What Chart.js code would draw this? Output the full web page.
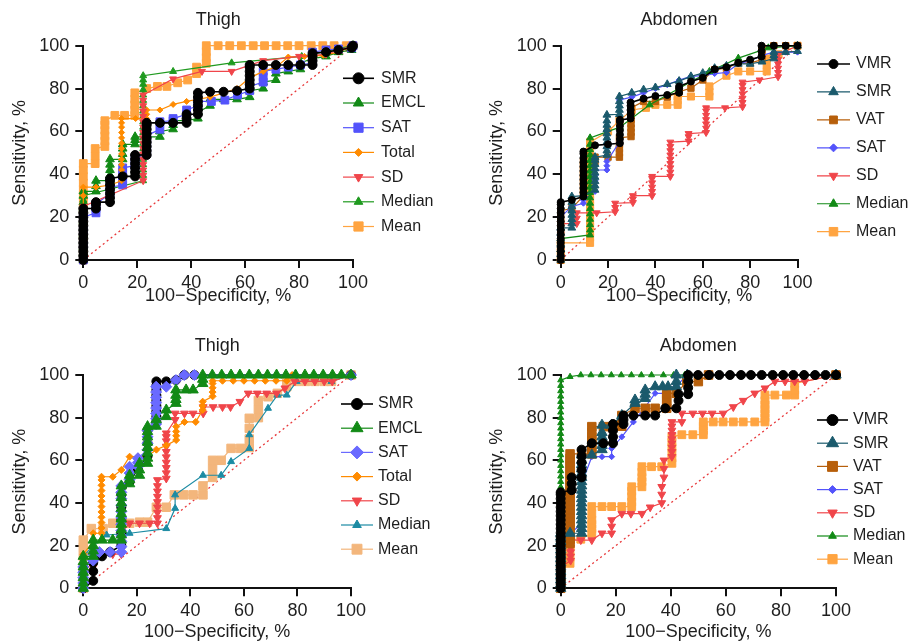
<!DOCTYPE html>
<html>
<head>
<meta charset="utf-8">
<script src="https://cdn.jsdelivr.net/npm/chart.js@4.4.1/dist/chart.umd.min.js"></script>
<style>
  html, body { margin: 0; padding: 0; background: #fff; }
  #wrap { position: relative; width: 909px; height: 643px; overflow: hidden; }
  canvas { position: absolute; }
</style>
</head>
<body>
<div id="wrap">
  <canvas id="c1" width="455" height="320" style="left:0;top:0"></canvas>
  <canvas id="c2" width="454" height="320" style="left:455px;top:0"></canvas>
  <canvas id="c3" width="455" height="321" style="left:0;top:322px"></canvas>
  <canvas id="c4" width="454" height="321" style="left:455px;top:322px"></canvas>
</div>
<script>
// ---- data: [100-specificity %, sensitivity %] ----
const thighLabels = ["SMR", "EMCL", "SAT", "Total", "SD", "Median", "Mean"];
const abdLabels = ["VMR", "SMR", "VAT", "SAT", "SD", "Median", "Mean"];
const tickValues = [0, 20, 40, 60, 80, 100];
const chanceLine = [[0, 0], [100, 100]];

// top-left: Thigh
const t1_smr = [[0,0],[0,2],[0,4],[0,6],[0,8],[0,10],[0,12],[0,14],[0,16],[0,18],[0,20],[0,22],[0,24],[4.7,24],[4.7,26],[4.7,27],[9.9,27],[9.9,29],[9.9,31],[9.9,33],[9.9,35],[9.9,37],[9.9,38],[14.6,39],[19.2,39],[19.2,41],[19.2,43],[19.2,45],[19.2,47],[19.2,49],[23.5,49],[23.5,51],[23.5,53],[23.5,55],[23.5,57],[23.5,59],[23.5,61],[23.5,63],[23.5,64],[28.4,64],[33.3,64],[38.3,64],[38.3,66],[38.3,68],[42.5,68],[42.5,70],[42.5,72],[42.5,74],[42.5,76],[42.5,78],[47,78.5],[52,78.5],[57,79],[61.7,80],[61.7,82],[61.7,84],[61.7,86],[61.7,88],[61.7,90],[61.7,91],[66.7,91],[71.4,91],[76,91],[80.5,91],[85,91],[85,93],[85,95],[85,96.5],[90,97],[94.6,98],[99.5,99],[100,100]];
const t1_emcl = [[0,0],[0,3],[0,6],[0,9],[0,12],[0,15],[0,18],[0,21],[0,24],[0,27],[0,30],[0,32],[4.7,32],[4.7,34.5],[4.7,37],[9.9,37],[9.9,39.5],[9.9,42],[9.9,44.5],[9.9,47],[14.6,47],[14.6,49.5],[14.6,52],[14.6,54],[19.2,54],[19.2,56],[19.2,57.5],[23.5,57.5],[28.4,57.5],[28.4,60],[33.3,61],[33.3,63],[33.3,65],[38.3,65],[42.5,66],[42.5,69],[47,72],[47,75],[52,75],[57,75],[61.7,76],[61.7,79],[66.7,80],[66.7,83],[71.4,84],[71.4,87],[76,88],[80.5,89],[80.5,92],[85,94],[90,95],[94.6,97],[99.5,98],[100,100]];
const t1_sat = [[0,0],[0,7],[0,14],[0,20],[4.7,22],[4.7,24],[4.7,26],[9.9,31],[9.9,34],[14.6,35],[14.6,37],[14.6,39],[14.6,41],[14.6,43],[19.2,44],[19.2,47],[23.5,50],[23.5,52],[23.5,54],[23.5,56],[23.5,58],[28.4,61],[28.4,64.5],[33.3,65],[33.3,66],[38.3,68],[38.3,70],[42.5,72],[42.5,74],[47.5,74],[52.5,74.6],[57.2,77],[61.7,79],[61.7,81],[66.7,83],[66.7,85.5],[66.7,88],[71.4,89],[76,90],[80.5,91],[85,92],[85,94.5],[85,97],[90,98],[94.6,98.5],[99.5,99],[100,100]];
const t1_total = [[0,0],[0,10],[0,20],[0,30],[0,34],[4.7,34],[9.9,35],[14.2,37],[14.2,39.5],[14.2,42],[14.2,44.5],[14.2,47],[14.2,49.5],[14.2,52],[14.2,54.5],[14.2,57],[14.2,59.5],[14.2,62],[14.2,64],[14.2,66],[19.4,66],[23.5,66],[23.5,68],[23.5,70],[28.4,70],[33.3,72.6],[38.3,74],[42.5,75],[47,76],[52,78],[57,80],[61.7,85],[66.7,88],[71.4,90],[76,94.7],[82,95],[89,95.5],[94.6,97],[100,100]];
const t1_sd = [[0,0],[0,8],[0,16],[0,25],[22.2,37],[22.2,39.5],[22.2,42],[22.2,44.5],[22.2,47],[22.2,49.5],[22.2,52],[22.2,54.5],[22.2,57],[22.2,59.5],[22.2,62],[22.2,64.5],[22.2,67],[22.2,69.5],[22.2,72],[22.2,74.5],[22.2,77],[33.3,84.5],[44,88],[55,88],[66.7,93],[80,95],[90,96],[100,100]];
const t1_median = [[0,0],[0,4],[0,8],[0,12],[0,16],[0,20],[0,24],[0,28],[0,30],[22.2,37],[22.2,39.5],[22.2,42],[22.2,44.5],[22.2,47],[22.2,49.5],[22.2,52],[22.2,54.5],[22.2,57],[22.2,59.5],[22.2,62],[22.2,64.5],[22.2,67],[22.2,69.5],[22.2,72],[22.2,74.5],[22.2,77],[22.2,79.5],[22.2,82],[22.2,84],[22.2,86],[33.3,88],[55,92],[81,95],[100,100]];
const t1_mean = [[0,0],[0,3],[0,6],[0,9],[0,12],[0,15],[0,18],[0,21],[0,24],[0,27],[0,30],[0,33],[0,36],[0,39],[0,42],[0,45],[4.4,45],[4.4,48.5],[4.4,52],[8,53],[8,55.5],[8,58],[8,60.5],[8,63],[8,65],[11.7,67.5],[15.3,67.5],[19.1,67.5],[19.1,70],[19.1,72.5],[19.1,75],[19.1,78],[23.5,80],[27.5,81],[31,81],[35,82.7],[38.7,84],[42,87],[42,90],[45.6,91.8],[45.6,94.5],[45.6,97.2],[45.6,100],[50,100],[54.3,100],[58.6,100],[63,100],[67.2,100],[71.5,100],[75.8,100],[80,100],[84.5,100],[88.8,100],[93,100],[97.5,100],[100,100]];

// top-right: Abdomen
const a1_vmr = [[0,0],[0,2],[0,4],[0,6],[0,8],[0,10],[0,12],[0,14],[0,16],[0,18],[0,20],[0,22],[0,24],[0,26],[0,27],[4.7,28],[9.6,29.6],[9.6,31.6],[9.6,33.6],[9.6,35.6],[9.6,37.6],[9.6,39.6],[9.6,41.6],[9.6,43.6],[9.6,45.6],[9.6,47.6],[9.6,49.6],[9.6,50.6],[14.5,53.5],[20,54],[25,54.5],[25,56.5],[25,58.5],[25,60.5],[25,62.5],[25,64.5],[25,65.4],[29.5,66],[29.5,68],[29.5,70],[29.5,72],[29.5,73.5],[35,75.3],[40,76.5],[45,77],[50,78],[50,80],[50,81],[55,83.3],[60,85],[65,89],[70,90],[75,92],[80,93.5],[84.8,95],[84.8,97.5],[84.8,100],[90,100],[95,100],[100,100]];
const a1_smr = [[0,0],[0,2.5],[0,5],[0,7.5],[0,10],[0,12.5],[0,15],[4.7,15],[4.7,17],[4.7,19],[4.7,21],[4.7,23],[4.7,25],[4.7,27],[4.7,29.6],[9.6,30],[14.5,32.7],[14.5,34.7],[14.5,36.7],[14.5,38.7],[14.5,40.7],[14.5,42.7],[14.5,44.7],[14.5,46.7],[14.5,48],[19.5,49],[19.5,51],[19.5,53],[19.5,55],[19.5,57],[19.5,59],[19.5,61],[19.5,63],[19.5,65],[19.5,67.7],[24.8,68],[24.8,70],[24.8,72],[24.8,74],[24.8,76.3],[30,78],[35,79.5],[40,80.5],[45,82],[50,83.5],[55,85.7],[60,87.2],[65,89.5],[70,90.6],[75,91.5],[80,91.5],[85,92.5],[90,94],[90,95.5],[90,97],[95,97],[100,97.4],[100,100]];
const a1_vat = [[0,0],[0,2.5],[0,5],[0,7.5],[0,10],[0,12.5],[0,15],[0,17.5],[0,20],[0,23],[4.7,24],[9.6,30],[9.6,32],[9.6,34],[9.6,36],[9.6,38],[9.6,40],[9.6,42],[9.6,44],[9.6,46],[14.5,46],[14.5,48],[20,48],[24.8,48],[24.8,50],[24.8,52],[24.8,54],[24.8,57],[29.7,57.6],[29.7,59.6],[29.7,61.6],[29.7,63.6],[29.7,65.6],[29.7,67.6],[29.7,69.6],[29.7,71],[35,74],[40,74],[45,76],[50,78.5],[55,80.2],[60,84],[65,88.8],[70,89.5],[75,91.9],[80,91.9],[85,93.5],[85,95.5],[85,97.5],[85,99],[90,100],[95,100],[100,100]];
const a1_sat = [[0,0],[0,10],[0,20],[4.7,25],[9.6,26.5],[9.6,28],[14.5,32],[14.5,34.5],[14.5,37],[14.5,39.5],[14.5,42],[19.5,42],[19.5,44],[19.5,46],[24.8,55],[24.8,65],[24.8,74.7],[30,76],[35,78],[40,80],[45,81.8],[50,84],[55,85.7],[60,86],[65,87],[70,87.5],[75,91.5],[80,93],[85,95.5],[90,97],[95,97],[100,97],[100,100]];
const a1_sd = [[0,0],[0,4],[0,8],[0,12],[0,17],[6.8,17],[6.8,19.5],[6.8,22],[15.2,22],[23,22.5],[23,24.5],[23,26.5],[30.5,26.8],[30.5,28.5],[30.5,30],[38.6,30],[38.6,32],[38.6,34],[38.6,36],[38.6,38],[38.6,39],[46.3,39],[46.3,41],[46.3,43],[46.3,45],[46.3,47],[46.3,49],[46.3,51],[46.3,53],[46.3,55],[54,55.5],[54,57.5],[54,59],[61.4,59.5],[61.4,61.5],[61.4,63.5],[61.4,65.5],[61.4,67.5],[61.4,69.5],[61.4,71],[69.4,71],[76.8,71.5],[76.8,73.5],[76.8,75.5],[76.8,77.5],[76.8,79.5],[76.8,81.5],[76.8,83],[84,84],[91.8,85.5],[91.8,87.5],[91.8,89.5],[91.8,91.5],[91.8,93.5],[91.8,95.8],[100,100]];
const a1_median = [[0,0],[0,2.5],[0,5],[0,7.5],[0,10],[12.4,11.7],[12.4,14],[12.4,16.5],[12.4,19],[12.4,21.5],[12.4,24],[12.4,26.5],[12.4,29],[12.4,31.5],[12.4,34],[12.4,36.5],[12.4,39],[12.4,41.5],[12.4,44],[12.4,46.5],[12.4,49],[12.4,51.5],[12.4,54],[12.4,57],[25,62],[37.6,72.4],[62.8,88],[75,94.2],[87.7,99],[100,100]];
const a1_mean = [[0,0],[0,4],[0,8],[12.4,8],[12.4,10.5],[12.4,13],[12.4,15.5],[12.4,18],[12.4,20.5],[12.4,23],[12.4,25.5],[12.4,28],[12.4,30.5],[12.4,33],[12.4,35.5],[12.4,38],[12.4,40.5],[12.4,43],[12.4,45.5],[12.4,48],[12.4,50.5],[12.4,53],[12.4,55],[20,60],[24.8,65],[30,70],[36,71],[40,72.4],[45,72.4],[49.4,72.4],[49.4,74.5],[49.4,76.3],[55,76.3],[62.8,76.3],[62.8,78.5],[62.8,81],[70,86],[75,88],[80,88],[87,88],[87,91],[87,94],[92,96],[100,100]];

// bottom-left: Thigh
const t2_smr = [[0,0],[3.7,3.5],[3.7,8],[3.7,12],[7,15],[10,17],[14.2,20],[14.2,26],[14.2,32],[14.2,38],[14.2,44],[17.3,50],[20.4,56],[24,62],[24,68],[24,74],[27.3,78],[27.3,80.5],[27.3,83],[27.3,85.5],[27.3,88],[27.3,90.5],[27.3,93],[27.3,95],[27.3,97],[31,97],[34.6,97.6],[37.7,100],[41.5,100],[100,100]];
const t2_emcl = [[0,0],[0,2.5],[0,5],[0,7.5],[0,10],[0,12.5],[0,15],[3.7,15],[3.7,17.5],[3.7,20],[3.7,22.6],[7,22.6],[11,22.6],[14.2,22.6],[14.2,25],[14.2,27.5],[14.2,30],[14.2,32.5],[14.2,35],[14.2,37.5],[14.2,40],[14.2,42.5],[14.2,45],[14.2,48],[17.3,49],[17.3,51],[17.3,53],[21,53],[21,55.5],[21,58.6],[24,58.6],[24,61],[24,63.5],[24,66],[24,68.5],[24,71],[24,73.5],[24,75.8],[27.2,76],[27.2,79],[31,80.5],[31,83.6],[34.6,86.7],[34.6,88.5],[34.6,90.5],[34.6,93],[38.4,93],[41,93],[44.6,96],[44.6,98],[44.6,100],[48.2,100],[51.7,100],[55.2,100],[58.5,100],[62,100],[65.4,100],[68.8,100],[72.2,100],[75.7,100],[79.3,100],[82.8,100],[86.1,100],[89.6,100],[93.1,100],[96.4,100],[100,100]];
const t2_sat = [[0,0],[0,2.5],[0,5],[0,7.5],[0,10],[3.7,13],[3.7,16],[6,17],[10,17],[14.2,17],[14.2,19.5],[14.2,22],[14.2,24.5],[14.2,27],[14.2,30],[14.2,33],[14.2,36],[14.2,39],[14.2,42],[14.2,45],[14.2,48],[17.3,51],[17.3,54],[17.3,57],[20.4,57],[20.4,59],[20.4,61],[24,65],[24,68],[24,71],[24,74],[27.2,77],[27.2,79.5],[27.2,82],[27.2,84.5],[27.2,87],[27.2,89.5],[27.2,92],[27.2,94.5],[31,94.5],[34.6,97.6],[37.7,100],[41.5,100],[100,100]];
const t2_total = [[0,0],[0,8],[0,16],[3.7,22],[3.7,25.8],[6.8,25.8],[6.8,28.3],[6.8,30.8],[6.8,33.3],[6.8,35.8],[6.8,38.3],[6.8,40.8],[6.8,43.3],[6.8,45.8],[6.8,48.3],[6.8,50.8],[6.8,52.3],[11,52.3],[14.2,55.5],[17.3,61.7],[20.4,61.7],[24,62],[27.3,65],[31,67],[34.7,69.5],[34.7,71.5],[34.7,73.5],[34.7,75.8],[37.8,78],[42,78],[44.6,83.6],[44.6,85.5],[44.6,87.5],[48.3,90],[48.3,92],[48.3,94],[48.3,96],[48.3,97.3],[52,97.3],[56,97.3],[60,97.3],[64,97.3],[68,97.3],[72,97.3],[76,97.3],[78,100],[100,100]];
const t2_sd = [[0,0],[0,5],[0,10],[3.7,10],[3.7,13],[3.7,16],[6.8,16],[11,16],[14.2,16],[14.2,19],[14.2,22],[14.2,26],[17.3,30.5],[21,30.5],[24.8,30.5],[27.7,30.5],[27.7,33],[27.7,35.5],[27.7,38],[27.7,40.5],[27.7,43],[27.7,45.5],[27.7,48],[27.7,50.8],[31,51.5],[31,54],[31,56.5],[31,59],[31,61.5],[31,64],[31,66.5],[31,69],[31,71],[31,72.7],[34.3,79],[34.3,82],[37.8,82],[41,82],[44.8,82],[44.8,85],[48.5,85],[52,85],[55,85],[58.5,87.5],[61.6,91.4],[65,91.4],[68.5,91.4],[72.2,91.4],[75.3,93.8],[79,97],[82.8,97],[86.5,97],[90,97],[93,97],[100,100]];
const t2_median = [[0,0],[0,5],[0,10],[0,15],[3.7,20],[8.7,25],[17.3,25.8],[31,28],[34.3,37.5],[34.3,43.8],[44.7,53],[51.5,53],[55.2,59.4],[62,65.6],[62,72],[69,84.4],[72.5,90.6],[76,90.6],[79.7,97],[92.7,97],[100,100]];
const t2_mean = [[0,0],[0,5],[0,10],[0,15],[0,19],[0,22.6],[3,28],[7.4,28],[11,30.5],[14,30.5],[17.3,30.5],[21,31],[24,31],[27.3,38],[31,38],[34,43.8],[37.5,43.8],[41,43.8],[44.7,43.8],[44.7,48],[48.3,52],[48.3,56],[48.3,60],[51.5,60],[55.2,65.6],[58.7,65.6],[62,66],[62,70],[62,75],[62,79.7],[65.4,80],[65.4,84],[65.4,88],[69,89.8],[72.5,91.4],[76,94.5],[76,97],[79.7,97],[83,97],[86.5,97],[90,97],[92.7,97],[100,100]];

// bottom-right: Abdomen
const a2_vmr = [[0,0],[0,2],[0,4],[0,6],[0,8],[0,10],[0,12],[0,14],[0,16],[0,18],[0,20],[0,22],[0,24],[0,26],[0,28],[0,30],[0,32],[0,34],[0,36],[0,38],[0,40],[0,42],[0,44],[0,45],[4,46],[4,49],[4,52],[7.6,52],[7.6,55.5],[7.6,59],[7.6,62],[7.6,65],[11.3,68],[15.5,68],[19,68],[19,71],[19,74],[19,77],[22.8,77],[22.8,79],[22.8,81],[26.4,81],[30.7,81],[34.3,81],[38,84.4],[42,84.4],[42.8,88],[42.8,91],[46.3,91],[46.3,94],[46.3,97],[46.3,100],[49.9,100],[53.9,100],[57.6,100],[61.5,100],[65.5,100],[69.1,100],[73,100],[77,100],[80.8,100],[84.5,100],[88.4,100],[92.4,100],[96.2,100],[100,100]];
const a2_smr = [[0,0],[0,2],[0,4],[0,6],[0,8],[0,10],[0,12],[0,14],[0,16],[0,18],[0,20],[0,22],[0,24],[0,25.8],[3.4,25.8],[7.6,25.8],[7.6,28],[7.6,30],[7.6,32],[7.6,34],[7.6,36],[7.6,38],[7.6,40],[7.6,42],[7.6,44],[7.6,46],[7.6,48],[7.6,50],[7.6,52],[7.6,54],[7.6,56],[7.6,58],[7.6,60],[7.6,62.5],[11.3,62.5],[15,65],[15,67],[15,69],[15,71],[15,73],[15,76.5],[18.5,76.5],[22.2,81],[27,86.7],[27,88.3],[30.7,89],[30.7,91],[30.7,93],[34.3,94.5],[37,94.5],[39,94.5],[42,94.5],[42,97],[42,100],[46,100],[100,100]];
const a2_vat = [[0,0],[0,2],[0,4],[0,6],[0,8],[0,10],[0,12],[0,14],[0,16],[0,18],[0,21],[3.4,21],[3.4,23],[3.4,25],[3.4,27],[3.4,29],[3.4,31],[3.4,33],[3.4,35],[3.4,37],[3.4,39],[3.4,41],[3.4,43],[3.4,45],[3.4,47],[3.4,49],[3.4,51],[3.4,53],[3.4,55],[3.4,57],[3.4,59],[3.4,61],[3.4,63],[7.6,63],[11.3,63],[11.3,65],[11.3,67],[11.3,69],[11.3,71],[11.3,73],[11.3,75.8],[15.5,75.8],[18.5,75.8],[22.2,76],[22.2,78.5],[22.2,81],[27,84.4],[30.7,84.4],[34.3,84.4],[38.5,84.4],[38.5,86],[38.5,88],[38.5,90],[38.5,91.4],[42,91.4],[45.8,96.9],[50,96.9],[53.7,100],[100,100]];
const a2_sat = [[0,0],[0,10],[0,20],[3.4,25.8],[7.6,30],[7.6,40],[7.6,49],[11.3,61.7],[15,61.7],[18.5,61.7],[18.5,65.6],[22.2,71],[26.4,78],[30.7,85],[34.3,91.4],[38,91.4],[42,95],[46,100],[100,100]];
const a2_sd = [[0,0],[0,5],[0,10],[3.6,13],[3.6,15],[3.6,17],[3.6,19],[3.6,22.6],[7.3,22.6],[11.3,22.6],[15,25.8],[18.5,25.8],[18.5,29],[18.5,32],[22.2,35],[25.5,35],[29.5,35],[32.5,38],[36.7,40],[36.7,44],[36.7,47.6],[37.5,52],[37.5,56],[37.5,60],[40.4,61.7],[40.4,64],[40.4,66],[40.4,68],[40.4,70],[40.4,72],[40.4,74],[40.4,76],[40.4,78],[44,78],[44,82],[48,82],[51.5,82],[55,82],[59,82],[62.7,85],[66.3,88],[70.5,91.4],[74.2,93.8],[77.8,97],[81.5,97],[85,97],[88.7,97],[100,100]];
const a2_median = [[0,0],[0,2.5],[0,5],[0,7.5],[0,10],[0,12.5],[0,15],[0,17.5],[0,20],[0,22.5],[0,25],[0,27.5],[0,30],[0,32.5],[0,35],[0,37.5],[0,40],[0,42.5],[0,45],[0,47.5],[0,50],[0,52.5],[0,55],[0,57.5],[0,60],[0,62.5],[0,65],[0,67.5],[0,70],[0,72.5],[0,75],[0,77.5],[0,80],[0,82.5],[0,85],[0,87.5],[0,90],[0,92.5],[0,95],[0,97.6],[3.4,99.2],[7.3,100],[11,100],[14.7,100],[18.4,100],[22,100],[25.7,100],[29.3,100],[33,100],[37.3,100],[41,100],[45,100],[100,100]];
const a2_mean = [[0,0],[0,5],[0,10],[3.4,11.7],[3.4,14.5],[3.4,17],[3.4,20],[3.4,23],[7.3,23],[11.3,25.8],[11.3,28],[11.3,30],[11.3,32],[11.3,35],[11.3,38.3],[15,38.3],[18.5,38.3],[22.2,38.3],[25.8,38.3],[25.8,40.5],[25.8,43],[25.8,45.5],[25.8,47.6],[29.5,47.6],[29.5,50],[29.5,52],[29.5,54.5],[29.5,57],[33,57],[36.7,57],[40.4,58.6],[40.4,61],[40.4,63.5],[40.4,66],[40.4,68.5],[40.4,71],[44,72],[48,72],[51.8,72],[51.8,74],[51.8,76],[51.8,78],[55.4,78],[59,78],[62.7,78],[66.3,78],[70.5,78],[74.2,78],[74.2,80],[74.2,82],[74.2,84],[74.2,86],[74.2,88],[74.2,90.6],[77.8,90.6],[82,90.6],[85,90.6],[85,93],[85,96],[100,100]];

// ---- styling ----
const FONT = "'Liberation Sans', Arial, Helvetica, sans-serif";
const TEXT = "#1e1e1e";

const panelDecor = {
  id: "panelDecor",
  afterDraw(chart, args, opts) {
    const ctx = chart.ctx;
    const area = chart.chartArea;
    ctx.save();
    ctx.fillStyle = TEXT;
    ctx.font = "18px " + FONT;
    ctx.textAlign = "center";
    ctx.textBaseline = "middle";
    ctx.fillText(opts.title, (area.left + area.right) / 2, opts.titleY);

    ctx.font = "16px " + FONT;
    ctx.textAlign = "left";
    chart.data.datasets.forEach((ds, i) => {
      if (!ds.label) return;
      const y = opts.legendY + i * opts.legendGap;
      const x0 = opts.legendX;
      const x1 = x0 + opts.lineLen;
      ctx.setLineDash([]);
      ctx.strokeStyle = ds.borderColor;
      ctx.lineWidth = ds.borderWidth;
      ctx.beginPath();
      ctx.moveTo(x0, y);
      ctx.lineTo(x1, y);
      ctx.stroke();
      ctx.fillStyle = ds.pointBackgroundColor;
      ctx.strokeStyle = ds.pointBorderColor;
      ctx.lineWidth = 1;
      if (Chart.helpers && Chart.helpers.drawPoint) {
        Chart.helpers.drawPoint(ctx, {
          pointStyle: ds.pointStyle,
          rotation: ds.pointRotation || 0,
          radius: ds.pointRadius + 1,
          borderWidth: 1,
        }, (x0 + x1) / 2, y);
      }
      ctx.fillStyle = TEXT;
      ctx.fillText(ds.label, x1 + opts.textGap, y);
    });
    ctx.restore();
  },
};

function toXY(arr) {
  return arr.map((p) => ({ x: p[0], y: p[1] }));
}

function axis(title, fitFn) {
  return {
    type: "linear",
    min: 0,
    max: 100,
    afterFit: fitFn,
    afterBuildTicks: (s) => { s.ticks = tickValues.map((v) => ({ value: v })); },
    ticks: { color: TEXT, font: { family: FONT, size: 18 }, padding: 4, maxRotation: 0, autoSkip: false },
    grid: { drawOnChartArea: false, drawTicks: true, tickLength: 8, color: "#111", lineWidth: 2 },
    border: { color: "#111", width: 2 },
    title: { display: true, text: title, color: TEXT, font: { family: FONT, size: 18 }, padding: 0 },
  };
}

function makePanel(id, series, p) {
  const datasets = series.map((s) => ({
    label: s.label,
    data: toXY(s.data),
    showLine: true,
    borderColor: s.color,
    backgroundColor: s.color,
    borderWidth: s.lw || 1.2,
    pointStyle: s.style,
    pointRotation: s.rot || 0,
    pointRadius: s.r,
    pointBackgroundColor: s.color,
    pointBorderColor: s.color,
    pointBorderWidth: 1,
    order: s.order,
    clip: false,
  }));
  datasets.push({
    label: "",
    data: toXY(chanceLine),
    showLine: true,
    borderColor: "#e8393b",
    borderWidth: 1.3,
    borderDash: [2, 3],
    pointRadius: 0,
    order: 20,
  });

  const xAxis = axis("100\u2212Specificity, %", (s) => { s.height = p.hX; });
  const yAxis = axis("Sensitivity, %", (s) => { s.width = p.wY; });
  yAxis.ticks.padding = 6;

  new Chart(document.getElementById(id), {
    type: "scatter",
    data: { datasets },
    options: {
      responsive: false,
      animation: false,
      events: [],
      layout: { padding: p.pad },
      scales: { x: xAxis, y: yAxis },
      plugins: {
        legend: { display: false },
        tooltip: { enabled: false },
        panelDecor: p.decor,
      },
    },
    plugins: [panelDecor],
  });
}

const BLACK = "#000000";
const GREEN = "#128a16";
const GREEN2 = "#1f9a1f";
const BLUE = "#5353fb";
const ORANGE = "#ff8b00";
const RED = "#f0454a";
const MEAN = "#ffa441";
const TAN = "#f3b67c";
const TEAL = "#1b5a6c";
const TEAL2 = "#1c8ba3";
const BROWN = "#b75f0b";

makePanel("c1", [
  { label: thighLabels[0], data: t1_smr, color: BLACK, style: "circle", r: 4.5, lw: 1.6, order: 1 },
  { label: thighLabels[1], data: t1_emcl, color: GREEN, style: "triangle", r: 5, order: 5 },
  { label: thighLabels[2], data: t1_sat, color: BLUE, style: "rect", r: 5.5, order: 4 },
  { label: thighLabels[3], data: t1_total, color: ORANGE, style: "rectRot", r: 3, order: 3 },
  { label: thighLabels[4], data: t1_sd, color: RED, style: "triangle", rot: 180, r: 4, order: 2 },
  { label: thighLabels[5], data: t1_median, color: GREEN2, style: "triangle", r: 4, order: 6 },
  { label: thighLabels[6], data: t1_mean, color: MEAN, style: "rect", r: 5.5, order: 7 },
], {
  pad: { left: 9.2, top: 45.7, right: 102, bottom: 13.2 }, wY: 74.1, hX: 46.8,
  decor: { title: "Thigh", titleY: 20, legendX: 343, lineLen: 31, textGap: 7, legendY: 78.3, legendGap: 24.7 },
});

makePanel("c2", [
  { label: abdLabels[0], data: a1_vmr, color: BLACK, style: "circle", r: 3.5, lw: 1.6, order: 1 },
  { label: abdLabels[1], data: a1_smr, color: TEAL, style: "triangle", r: 4.5, order: 2 },
  { label: abdLabels[2], data: a1_vat, color: BROWN, style: "rect", r: 4.5, order: 5 },
  { label: abdLabels[3], data: a1_sat, color: BLUE, style: "rectRot", r: 3, order: 4 },
  { label: abdLabels[4], data: a1_sd, color: RED, style: "triangle", rot: 180, r: 4, order: 6 },
  { label: abdLabels[5], data: a1_median, color: GREEN, style: "triangle", r: 4, order: 3 },
  { label: abdLabels[6], data: a1_mean, color: MEAN, style: "rect", r: 5, order: 7 },
], {
  pad: { left: 31.2, top: 45.7, right: 111.5, bottom: 13.2 }, wY: 74.5, hX: 46.8,
  decor: { title: "Abdomen", titleY: 20, legendX: 362, lineLen: 33, textGap: 6, legendY: 64, legendGap: 27.95 },
});

makePanel("c3", [
  { label: thighLabels[0], data: t2_smr, color: BLACK, style: "circle", r: 4.5, lw: 1.6, order: 3 },
  { label: thighLabels[1], data: t2_emcl, color: GREEN, style: "triangle", r: 6, order: 1 },
  { label: thighLabels[2], data: t2_sat, color: "#6a6aff", style: "rectRot", r: 5.5, order: 2 },
  { label: thighLabels[3], data: t2_total, color: ORANGE, style: "rectRot", r: 3.5, order: 4 },
  { label: thighLabels[4], data: t2_sd, color: RED, style: "triangle", rot: 180, r: 4.5, order: 5 },
  { label: thighLabels[5], data: t2_median, color: TEAL2, style: "triangle", r: 4, order: 6 },
  { label: thighLabels[6], data: t2_mean, color: TAN, style: "rect", r: 6, order: 7 },
], {
  pad: { left: 9.2, top: 53, right: 104, bottom: 0.2 }, wY: 74.1, hX: 54.5,
  decor: { title: "Thigh", titleY: 24, legendX: 341, lineLen: 32, textGap: 5, legendY: 82, legendGap: 24.2 },
});

makePanel("c4", [
  { label: abdLabels[0], data: a2_vmr, color: BLACK, style: "circle", r: 4.5, lw: 1.6, order: 1 },
  { label: abdLabels[1], data: a2_smr, color: TEAL, style: "triangle", r: 6, order: 2 },
  { label: abdLabels[2], data: a2_vat, color: BROWN, style: "rect", r: 6, order: 3 },
  { label: abdLabels[3], data: a2_sat, color: BLUE, style: "rectRot", r: 3, order: 4 },
  { label: abdLabels[4], data: a2_sd, color: RED, style: "triangle", rot: 180, r: 4.5, order: 6 },
  { label: abdLabels[5], data: a2_median, color: GREEN, style: "triangle", r: 3.5, order: 5 },
  { label: abdLabels[6], data: a2_mean, color: MEAN, style: "rect", r: 5.5, order: 7 },
], {
  pad: { left: 31.2, top: 53, right: 73, bottom: 0.2 }, wY: 74.5, hX: 54.5,
  decor: { title: "Abdomen", titleY: 24, legendX: 362, lineLen: 31, textGap: 5, legendY: 98, legendGap: 23.2 },
});
</script>
</body>
</html>
